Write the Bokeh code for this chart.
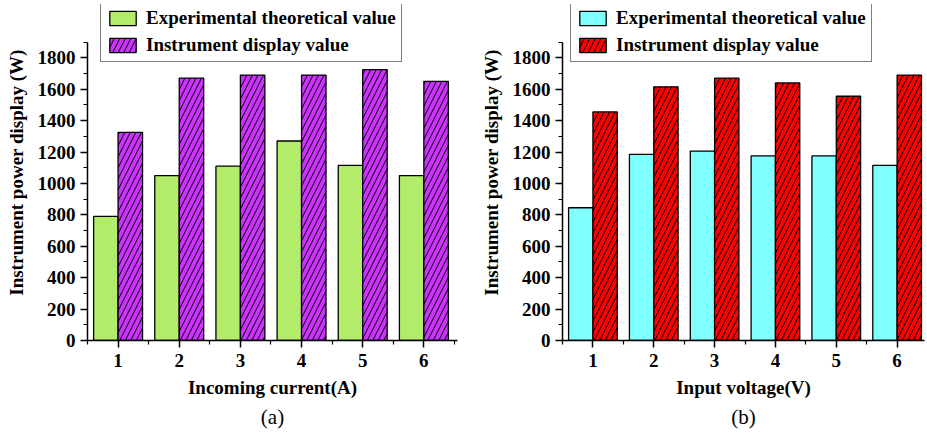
from bokeh.plotting import figure
from bokeh.layouts import row
from bokeh.models import ColumnDataSource, FixedTicker, SingleIntervalTicker, Range1d, Legend, Title
from bokeh.transform import dodge
from bokeh.embed import file_html
from bokeh.resources import INLINE

x_cats = [1, 2, 3, 4, 5, 6]
tick_labels = ["1", "2", "3", "4", "5", "6"]

a_theory = [790, 1050, 1110, 1270, 1115, 1050]
a_display = [1325, 1670, 1690, 1690, 1725, 1650]

b_theory = [845, 1185, 1205, 1175, 1175, 1115]
b_display = [1455, 1615, 1670, 1640, 1555, 1690]

series_names = ["Experimental theoretical value", "Instrument display value"]
y_label = "Instrument power display (W)"

FONT = "Liberation Serif"
H = 432
Y_AXIS_MAX = 1900
Y_VIEW_MAX = 2139


def make_panel(theory, display, c1, c2, xlabel, tag, width, border_left, x_end, legend_x):
    src = ColumnDataSource(dict(x=x_cats, t=theory, d=display))
    p = figure(width=width, height=H, output_backend="svg", toolbar_location=None,
               x_range=Range1d(0.5, x_end), y_range=Range1d(0, Y_VIEW_MAX),
               min_border_left=border_left, min_border_right=1, min_border_top=4,
               min_border_bottom=92)
    p.outline_line_color = None
    p.xgrid.visible = False
    p.ygrid.visible = False
    p.background_fill_color = "white"

    r1 = p.vbar(x=dodge("x", -0.2, range=p.x_range), top="t", width=0.4, source=src,
                fill_color=c1, line_color="black", line_width=1.3)
    r2 = p.vbar(x=dodge("x", 0.2, range=p.x_range), top="d", width=0.4, source=src,
                fill_color=c2, line_color="black", line_width=1.3,
                hatch_pattern="/", hatch_color="black", hatch_weight=1.0, hatch_scale=11)

    legend = Legend(items=[(series_names[0], [r1]), (series_names[1], [r2])],
                    location=(legend_x, 278), orientation="vertical",
                    label_text_font=FONT, label_text_font_style="bold",
                    label_text_font_size="19px", label_text_color="black",
                    glyph_width=33, glyph_height=18, label_standoff=7, spacing=5,
                    padding=5, margin=0, border_line_color="black", border_line_width=1.5,
                    background_fill_alpha=1.0, label_height=18)
    p.add_layout(legend, "center")

    p.xaxis.ticker = FixedTicker(ticks=x_cats, minor_ticks=[0.5 + i for i in range(7)])
    p.xaxis.major_label_overrides = {c: l for c, l in zip(x_cats, tick_labels)}
    p.yaxis.ticker = SingleIntervalTicker(interval=200, num_minor_ticks=2)
    p.yaxis.bounds = (0, Y_AXIS_MAX)
    for ax in (p.xaxis[0], p.yaxis[0]):
        ax.axis_line_width = 1.5
        ax.axis_line_color = "black"
        ax.major_tick_line_width = 1.5
        ax.major_tick_in = 0
        ax.major_tick_out = 7
        ax.minor_tick_in = 0
        ax.minor_tick_out = 4
        ax.minor_tick_line_width = 1.2
        ax.major_label_text_font = FONT
        ax.major_label_text_font_style = "bold"
        ax.major_label_text_font_size = "19px"
        ax.major_label_text_color = "black"
        ax.axis_label_text_font = FONT
        ax.axis_label_text_font_style = "bold"
        ax.axis_label_text_font_size = "19px"
        ax.axis_label_text_color = "black"
    p.xaxis.axis_label = xlabel
    p.yaxis.axis_label = y_label
    p.xaxis.major_label_standoff = 6
    p.xaxis.axis_label_standoff = 7
    p.yaxis.major_label_standoff = 5
    p.yaxis.axis_label_standoff = 8

    t = Title(text=tag, align="center", text_font=FONT, text_font_style="normal",
              text_font_size="21px", text_color="black", standoff=5, offset=-2)
    p.add_layout(t, "below")
    return p


pa = make_panel(a_theory, a_display, "#B3EB6B", "#CC33FF", "Incoming current(A)", "(a)",
                458, 87, 6.55, 13)
pb = make_panel(b_theory, b_display, "#80FFFF", "#FF0000", "Input voltage(V)", "(b)",
                467, 104, 6.45, 8)

layout = row(pa, pb)
open("out.html", "w").write(file_html(layout, INLINE))
